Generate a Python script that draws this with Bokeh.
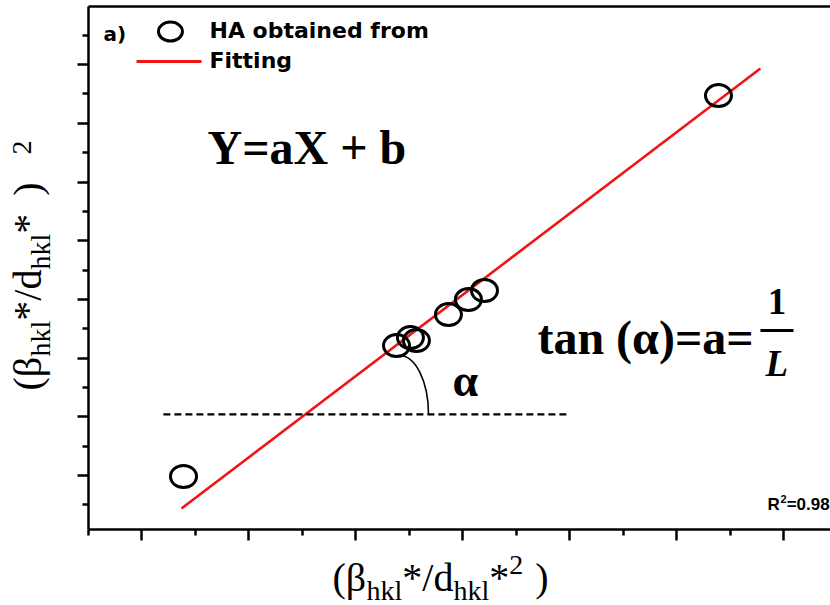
import math

from bokeh.plotting import figure
from bokeh.models import Range1d, LinearAxis, FixedTicker, Label
from bokeh.embed import file_html
from bokeh.resources import INLINE

# --- data -------------------------------------------------------------
# Williamson-Hall style points (HA obtained from peaks)
ha_x = [1.388, 3.379, 3.509, 3.565, 3.864, 4.051, 4.201, 6.388]
ha_y = [0.983, 3.214, 3.350, 3.299, 3.742, 3.998, 4.151, 7.472]

# linear fit  Y = aX + b
fit_a = 1.385
fit_b = -1.458
fit_x = [1.369, 6.780]
fit_y = [fit_a * x + fit_b for x in fit_x]

r_squared = "0.98"

# tick positions (no tick labels are shown)
x_major_ticks = [1, 2, 3, 4, 5, 6, 7]
x_minor_ticks = [0.5, 1.5, 2.5, 3.5, 4.5, 5.5, 6.5]
y_major_ticks = [1, 2, 3, 4, 5, 6, 7, 8]
y_minor_ticks = [0.5, 1.5, 2.5, 3.5, 4.5, 5.5, 6.5, 7.5, 8.5]

# horizontal reference line used to show the slope angle
ref_x = [1.20, 4.97]
ref_level = 2.04

# --- scales -----------------------------------------------------------
# the axes box spans x 0.5 .. 7.435 and y 0.08 .. 8.99; the canvas is a bit
# larger so that the axis titles can live inside the drawing area
X_LEFT, X_RIGHT = 0.5, 7.435
Y_BOTTOM, Y_TOP = 0.08, 8.99
X_UNIT, Y_UNIT = 107.0, 58.71          # pixels per data unit
CANVAS_X = (X_LEFT - 88 / X_UNIT, X_RIGHT)
CANVAS_Y = (Y_BOTTOM - 76 / Y_UNIT, Y_TOP + 6 / Y_UNIT)

p = figure(width=830, height=605, output_backend="svg", toolbar_location=None,
           x_range=Range1d(*CANVAS_X), y_range=Range1d(*CANVAS_Y),
           x_axis_type=None, y_axis_type=None,
           min_border_left=0, min_border_right=0,
           min_border_top=0, min_border_bottom=0)
p.outline_line_color = None
p.background_fill_color = "white"
p.border_fill_color = "white"


def make_axis(ticks, minor, location, bounds):
    return LinearAxis(
        ticker=FixedTicker(ticks=ticks, minor_ticks=minor),
        fixed_location=location, bounds=bounds,
        axis_line_color="black", axis_line_width=2.5,
        major_tick_line_color="black", major_tick_line_width=2.5,
        minor_tick_line_color="black", minor_tick_line_width=2.5,
        major_tick_in=0, major_tick_out=11,
        minor_tick_in=0, minor_tick_out=6,
        major_label_standoff=0, major_label_text_color=None,
    )


p.add_layout(make_axis(x_major_ticks, x_minor_ticks, Y_BOTTOM, (X_LEFT, X_RIGHT)), "below")
p.add_layout(make_axis(y_major_ticks, y_minor_ticks, X_LEFT, (Y_BOTTOM, Y_TOP)), "left")
top = make_axis([], [], Y_TOP, (X_LEFT, X_RIGHT))
top.major_tick_out = 0
top.minor_tick_out = 0
p.add_layout(top, "above")

RED = "#f01414"

# fitted line
p.line(fit_x, fit_y, line_color=RED, line_width=2.6)

# measured points as open rings
p.ellipse(ha_x, ha_y, width=26, height=22, width_units="screen", height_units="screen",
          fill_color=None, line_color="black", line_width=3)

# dashed horizontal reference and angle marker
p.line(ref_x, [ref_level, ref_level], line_color="black", line_width=2.2, line_dash="7 4")
p.bezier(x0=[3.407], y0=[3.044], x1=[3.678], y1=[ref_level],
         cx0=[3.556], cy0=[3.044], cx1=[3.678], cy1=[2.601],
         line_color="black", line_width=1.6)

# fraction bar of 1/L
p.line([6.780, 7.089], [3.470, 3.470], line_color="black", line_width=3)

SERIF = "Liberation Serif"
SANS = "Liberation Sans"
WIDE = "DejaVu Sans"
DROP = 0.37   # distance from Bokeh's text anchor to the glyph baseline, in em


def add_text(x, y, text, size, font=SERIF, style="bold", align="left",
             angle=0.0, dx=0.0, dy=0.0):
    if angle:
        dx -= DROP * size
    else:
        dy += DROP * size
    p.add_layout(Label(x=x, y=y, text=text, x_offset=dx, y_offset=dy,
                       text_font=font, text_font_size=f"{size}px",
                       text_font_style=style, text_align=align,
                       text_baseline="alphabetic", angle=angle,
                       text_color="black"))


# equations inside the plot
add_text(1.612, 6.280, "Y=aX + b", 48)
add_text(4.696, 3.044, "tan (\u03b1)=a=", 48)
add_text(6.934, 3.725, "1", 37, align="center")
add_text(6.934, 2.669, "L", 37, style="bold italic", align="center")
add_text(3.902, 2.329, "\u03b1", 46)

# R squared
add_text(6.846, 0.404, "R", 17, font=SANS)
add_text(6.967, 0.530, "2", 11, font=SANS)
add_text(7.025, 0.404, "=" + r_squared, 17, font=SANS)

# legend
add_text(0.640, 8.392, "a)", 20, font=WIDE)
p.ellipse([1.266], [8.563], width=24, height=19, width_units="screen", height_units="screen",
          fill_color=None, line_color="black", line_width=3)
add_text(1.631, 8.443, "HA obtained from", 22, font=WIDE)
p.line([0.949, 1.556], [8.052, 8.052], line_color=RED, line_width=3)
add_text(1.631, 7.932, "Fitting", 22, font=WIDE)

# --- axis titles built from runs with sub/superscripts ------------------
ADV = {"(": 333, ")": 333, "\u03b2": 520, "h": 500, "k": 500, "l": 278,
       "*": 500, "/": 278, "d": 500, "2": 500, " ": 250}


def run_width(text, size):
    return sum(ADV.get(c, 500) for c in text) * size / 1000.0


def title_runs(runs, main, x, y, vertical):
    # each run: text, size factor, baseline shift (em), gap before it (em)
    total = sum(run_width(t, main * s) + g * main for t, s, _, g in runs)
    pos = -total / 2
    for text, scale, shift, gap in runs:
        size = round(main * scale, 1)
        off = shift * main
        pos += gap * main
        if vertical:
            add_text(x, y, text, size, style="normal", angle=math.pi / 2,
                     dx=-off, dy=pos)
        else:
            add_text(x, y, text, size, style="normal", dx=pos, dy=off)
        pos += run_width(text, size)


MAIN = 40
SUB = 0.7
x_runs = [("(\u03b2", 1.0, 0.0, 0), ("hkl", SUB, -0.2, 0), ("*/d", 1.0, 0.0, 0),
          ("hkl", SUB, -0.2, 0), ("*", 1.0, 0.0, 0), ("2", SUB, 0.42, 0),
          (")", 1.0, 0.0, 0.3)]
y_runs = [("(\u03b2", 1.0, 0.0, 0), ("hkl", SUB, -0.2, 0), ("*/d", 1.0, 0.0, 0),
          ("hkl", SUB, -0.2, 0), ("*", 1.0, 0.0, 0), (")", 1.0, 0.0, 0.45),
          ("2", SUB, 0.26, 0.7)]

title_runs(x_runs, MAIN, 3.790, -0.993, vertical=False)
title_runs(y_runs, MAIN, 0.070, 4.577, vertical=True)

open("out.html", "w").write(file_html(p, INLINE))
